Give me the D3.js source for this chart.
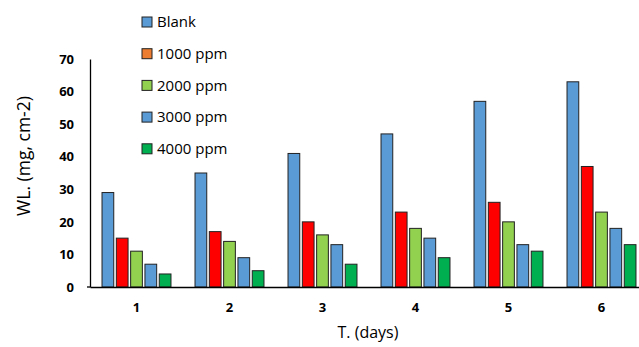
<html>
<head>
<script src="https://d3js.org/d3.v7.min.js"></script>
<style>
  body { margin: 0; background: #fff; }
  text { font-family: "Open Sans", "Noto Sans", sans-serif; }
</style>
</head>
<body>
<svg id="chart" width="639" height="347"></svg>
<script>
const days = ["1", "2", "3", "4", "5", "6"];
const seriesNames = ["Blank", "1000 ppm", "2000 ppm", "3000 ppm", "4000 ppm"];
const blank = [29, 35, 41, 47, 57, 63];
const ppm1000 = [15, 17, 20, 23, 26, 37];
const ppm2000 = [11, 14, 16, 18, 20, 23];
const ppm3000 = [7, 9, 13, 15, 13, 18];
const ppm4000 = [4, 5, 7, 9, 11, 13];
const yTicks = [0, 10, 20, 30, 40, 50, 60, 70];

const series = [blank, ppm1000, ppm2000, ppm3000, ppm4000];
const barColors = ["#5B9BD5", "#FF0000", "#92D050", "#5B9BD5", "#00B050"];
const legendColors = ["#5B9BD5", "#ED7D31", "#92D050", "#5B9BD5", "#00B050"];

const svg = d3.select("#chart");
const plotLeft = 90, plotBottom = 287, plotTop = 59;

const x = d3.scaleBand().domain(days).range([plotLeft, plotLeft + 6 * 93]).paddingInner(0).paddingOuter(0);
const inner = d3.scaleBand().domain(seriesNames).range([0, x.bandwidth()]).paddingOuter(0.84).paddingInner(0.18);
const y = d3.scaleLinear().domain([0, 70]).range([plotBottom, plotTop]);

// bars
const g = svg.append("g");
days.forEach((d, i) => {
  g.selectAll(null)
    .data(series.map((s, k) => ({ name: seriesNames[k], v: s[i], k })))
    .join("rect")
    .attr("x", e => x(d) + inner(e.name))
    .attr("y", e => y(e.v))
    .attr("width", inner.bandwidth())
    .attr("height", e => plotBottom - y(e.v))
    .attr("fill", e => barColors[e.k])
    .attr("stroke", "#222")
    .attr("stroke-width", 1);
});

// y axis
const yAxis = svg.append("g").attr("transform", `translate(${plotLeft},0)`)
  .call(d3.axisLeft(y).tickValues(yTicks).tickSize(0).tickPadding(16));
yAxis.select(".domain").attr("stroke", "#000").attr("stroke-width", 1.3);
yAxis.selectAll("text").style("font-size", "13px").style("font-weight", "bold").attr("fill", "#000");

// x axis
const xAxis = svg.append("g").attr("transform", `translate(0,${plotBottom})`)
  .call(d3.axisBottom(x).tickSize(0).tickPadding(16));
xAxis.select(".domain").attr("stroke", "#000").attr("stroke-width", 1.3);
xAxis.selectAll("text").style("font-size", "13px").style("font-weight", "bold").attr("fill", "#000");
svg.append("line").attr("x1", plotLeft - 3).attr("x2", plotLeft).attr("y1", plotBottom).attr("y2", plotBottom)
  .attr("stroke", "#000").attr("stroke-width", 1.3);

// axis titles
svg.append("text").attr("x", 368).attr("y", 338).attr("text-anchor", "middle")
  .style("font-size", "16px").text("T. (days)");
svg.append("text").attr("transform", "translate(30,156) rotate(-90)").attr("text-anchor", "middle")
  .style("font-size", "17.5px").text("WL. (mg, cm-2)");

// legend
const legend = svg.append("g");
seriesNames.forEach((n, k) => {
  const cy = 22 + k * 31.7;
  legend.append("rect").attr("x", 142).attr("y", cy - 5).attr("width", 10).attr("height", 10)
    .attr("fill", legendColors[k]).attr("stroke", "#222").attr("stroke-width", 1);
  legend.append("text").attr("x", 157).attr("y", cy).attr("dy", "0.35em")
    .style("font-size", "15px").text(n);
});
</script>
</body>
</html>
